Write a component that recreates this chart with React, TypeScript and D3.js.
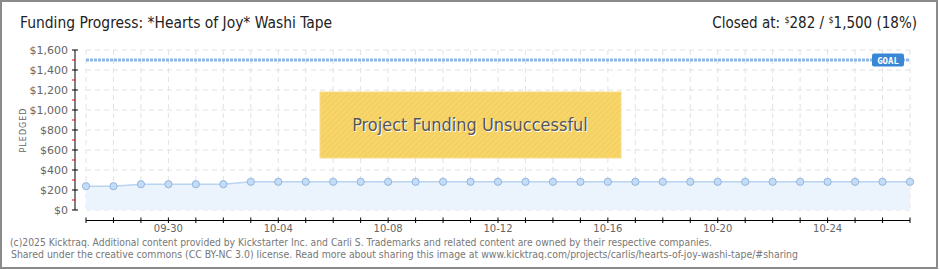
import React from "react";
import * as d3 from "d3";

const dates = [
  "09-27","09-28","09-29","09-30","10-01","10-02","10-03","10-04","10-05","10-06",
  "10-07","10-08","10-09","10-10","10-11","10-12","10-13","10-14","10-15","10-16",
  "10-17","10-18","10-19","10-20","10-21","10-22","10-23","10-24","10-25","10-26","10-27",
];
const pledged = [
  238, 238, 258, 258, 258, 258, 282, 282, 282, 282,
  282, 282, 282, 282, 282, 282, 282, 282, 282, 282,
  282, 282, 282, 282, 282, 282, 282, 282, 282, 282, 282,
];
const labeledDates = ["09-30", "10-04", "10-08", "10-12", "10-16", "10-20", "10-24"];
const yTicks = [0, 200, 400, 600, 800, 1000, 1200, 1400, 1600];
const yMinorTicks = [100, 300, 500, 700, 900, 1100, 1300, 1500];
const goal = 1500;
const titleText = "Funding Progress: *Hearts of Joy* Washi Tape";
const footer1 = "(c)2025 Kicktraq. Additional content provided by Kickstarter Inc. and Carli S. Trademarks and related content are owned by their respective companies.";
const footer2 = "Shared under the creative commons (CC BY-NC 3.0) license. Read more about sharing this image at www.kicktraq.com/projects/carlis/hearts-of-joy-washi-tape/#sharing";

export default function App() {
  const W = 940, H = 270;
  const x = d3.scaleLinear().domain([0, dates.length - 1]).range([86, 910]);
  const y = d3.scaleLinear().domain([0, 1600]).range([210, 50]);
  const fmt = (v: number) => "$" + d3.format(",")(v);

  const line = d3.line<number>().x((_, i) => x(i)).y((d) => y(d));
  const area = d3.area<number>().x((_, i) => x(i)).y0(y(0)).y1((d) => y(d));

  const axisFont = "'DejaVu Sans', sans-serif";
  const titleFont = "'Liberation Sans Narrow', 'DejaVu Sans Condensed', 'Roboto', sans-serif";

  return (
    <div style={{ position: "absolute", left: 0, top: 0 }}>
      <svg width={W} height={H} style={{ display: "block", background: "#fff" }}>
        <defs>
          <pattern id="hatch" width="4" height="4" patternUnits="userSpaceOnUse" patternTransform="rotate(45)">
            <rect width="4" height="4" fill="#F7D568" />
            <line x1="0" y1="0" x2="0" y2="4" stroke="#EFCB5E" strokeWidth="1.5" />
          </pattern>
        </defs>
        <rect x={1} y={1} width={936} height={267} fill="#fff" stroke="#8a8a8a" strokeWidth={2} />

        {/* title */}
        <text x={20} y={28} fontFamily={titleFont} fontSize={16} fill="#222" textLength={312} lengthAdjust="spacingAndGlyphs">
          {titleText}
        </text>
        <text x={917} y={28} textAnchor="end" fontFamily={titleFont} fontSize={15} fill="#222">
          Closed at:{"  "}
          <tspan fontSize={9} dy={-5}>$</tspan>
          <tspan dy={5}>282 /  </tspan>
          <tspan fontSize={9} dy={-5}>$</tspan>
          <tspan dy={5}>1,500 (18%)</tspan>
        </text>

        {/* grid */}
        {yTicks.map((t) => (
          <line key={"hg" + t} x1={86} x2={910} y1={y(t)} y2={y(t)} stroke="#e2e2e2" strokeDasharray="5,4" />
        ))}
        {dates.map((d, i) => (
          <line key={"vg" + d} x1={x(i)} x2={x(i)} y1={50} y2={210} stroke="#e2e2e2" strokeDasharray="5,4" />
        ))}

        {/* area + line */}
        <path d={area(pledged) || ""} fill="#EAF2FC" opacity={0.95} />
        <path d={line(pledged) || ""} fill="none" stroke="#B9D3F0" strokeWidth={1.5} />

        {/* goal line */}
        <line x1={86} x2={910} y1={y(goal)} y2={y(goal)} stroke="#8DB6E4" strokeWidth={3} strokeDasharray="3,1" />
        <rect x={872} y={53.5} width={32} height={13} rx={2} fill="#3A87D6" />
        <text x={888} y={63.5} textAnchor="middle" fontFamily="'DejaVu Sans Mono', monospace" fontSize={9} fontWeight="bold" fill="#fff">GOAL</text>

        {/* points */}
        {pledged.map((v, i) => (
          <circle key={"p" + i} cx={x(i)} cy={y(v)} r={3.6} fill="#C3DCF7" stroke="#93B5DE" strokeWidth={1} />
        ))}

        {/* y axis */}
        <line x1={75} x2={75} y1={50} y2={210} stroke="#000" />
        {yTicks.map((t) => (
          <g key={"yt" + t}>
            <line x1={72} x2={78} y1={y(t)} y2={y(t)} stroke="#000" />
            <text x={68} y={y(t) + 4} textAnchor="end" fontFamily={axisFont} fontSize={11} fill="#666">{fmt(t)}</text>
          </g>
        ))}
        {yMinorTicks.map((t) => (
          <line key={"ym" + t} x1={72} x2={75} y1={y(t)} y2={y(t)} stroke="#e00" />
        ))}
        <text transform={`translate(26,130) rotate(-90)`} textAnchor="middle" fontFamily={axisFont} fontSize={8} fill="#666" letterSpacing={1}>PLEDGED</text>

        {/* x axis */}
        <line x1={86} x2={910} y1={220.5} y2={220.5} stroke="#000" />
        {dates.map((d, i) => (
          <line key={"xt" + d} x1={x(i)} x2={x(i)} y1={217.5} y2={223} stroke="#000" />
        ))}
        {dates.map((d, i) =>
          labeledDates.includes(d) ? (
            <text key={"xl" + d} x={x(i)} y={232} textAnchor="middle" fontFamily={axisFont} fontSize={10} fill="#666">{d}</text>
          ) : null
        )}

        {/* unsuccessful box */}
        <rect x={320} y={92} width={301} height={66} fill="url(#hatch)" stroke="#F8DE8C" strokeWidth={1} />
        <text x={471} y={132} textAnchor="middle" fontFamily={titleFont} fontSize={18} fill="#fff">Project Funding Unsuccessful</text>
        <text x={470} y={131} textAnchor="middle" fontFamily={titleFont} fontSize={18} fill="#555">Project Funding Unsuccessful</text>

        {/* footer */}
        <text x={10} y={246} fontFamily={axisFont} fontSize={10} fill="#777" textLength={702} lengthAdjust="spacingAndGlyphs">{footer1}</text>
        <text x={11} y={258} fontFamily={axisFont} fontSize={10} fill="#777" textLength={787} lengthAdjust="spacingAndGlyphs">{footer2}</text>
      </svg>
    </div>
  );
}
